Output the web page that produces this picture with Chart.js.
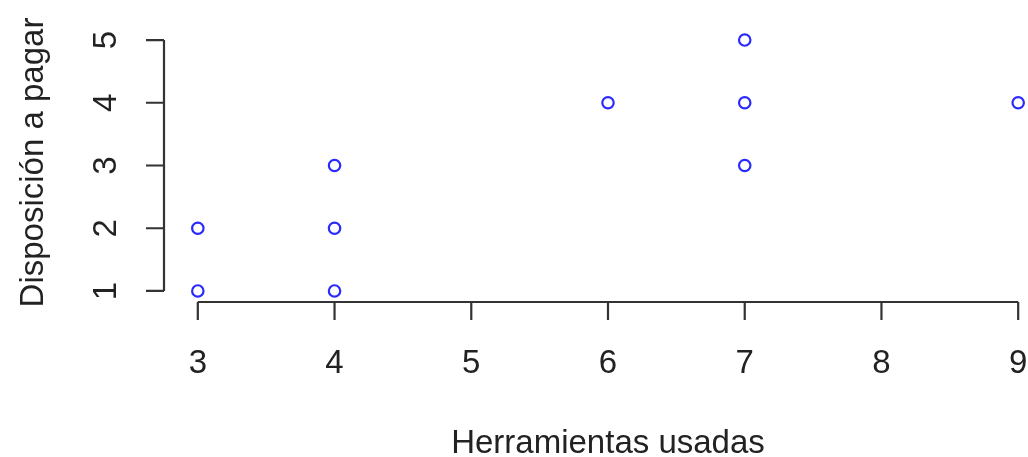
<!DOCTYPE html>
<html>
<head>
<meta charset="utf-8">
<script src="https://cdn.jsdelivr.net/npm/chart.js@4/dist/chart.umd.min.js"></script>
<style>
  html, body { margin: 0; padding: 0; background: #fff; overflow: hidden; }
  #c { display: block; }
</style>
</head>
<body>
<canvas id="c" width="1063" height="457"></canvas>
<script>
// Tools used vs. willingness to pay
const herramientas = [3, 3, 4, 4, 4, 6, 7, 7, 7, 9];
const disposicion  = [1, 2, 1, 2, 3, 4, 3, 4, 5, 4];
const xTicks = [3, 4, 5, 6, 7, 8, 9];
const yTicks = [1, 2, 3, 4, 5];
const xTitle = 'Herramientas usadas';
const yTitle = 'Disposición a pagar';

const points = herramientas.map((x, i) => ({ x: x, y: disposicion[i] }));

const FONT = '33px "Liberation Sans", Arial, sans-serif';
const INK = '#222';
const AXIS = '#333';

// Base-graphics style axes: lines span first to last tick only
const baseAxes = {
  id: 'baseAxes',
  afterDraw(chart) {
    const ctx = chart.ctx;
    const xs = chart.scales.x, ys = chart.scales.y;
    const area = chart.chartArea;
    const axY = area.bottom + 1;
    const axX = area.left - 1;
    const tick = 18;
    ctx.save();
    ctx.strokeStyle = AXIS;
    ctx.lineWidth = 2.2;
    ctx.lineCap = 'butt';

    // x axis
    const x0 = xs.getPixelForValue(xTicks[0]);
    const x1 = xs.getPixelForValue(xTicks[xTicks.length - 1]);
    ctx.beginPath();
    ctx.moveTo(x0, axY); ctx.lineTo(x1, axY);
    xTicks.forEach(v => {
      const px = xs.getPixelForValue(v);
      ctx.moveTo(px, axY); ctx.lineTo(px, axY + tick);
    });
    ctx.stroke();

    // y axis
    const y0 = ys.getPixelForValue(yTicks[0]);
    const y1 = ys.getPixelForValue(yTicks[yTicks.length - 1]);
    ctx.beginPath();
    ctx.moveTo(axX, y0); ctx.lineTo(axX, y1);
    yTicks.forEach(v => {
      const py = ys.getPixelForValue(v);
      ctx.moveTo(axX, py); ctx.lineTo(axX - tick, py);
    });
    ctx.stroke();

    ctx.fillStyle = INK;
    ctx.font = FONT;
    ctx.textBaseline = 'alphabetic';

    // x tick labels
    ctx.textAlign = 'center';
    xTicks.forEach(v => {
      ctx.fillText(String(v), xs.getPixelForValue(v), axY + 71);
    });

    // y tick labels, rotated to read upward
    yTicks.forEach(v => {
      ctx.save();
      ctx.translate(116, ys.getPixelForValue(v));
      ctx.rotate(-Math.PI / 2);
      ctx.textAlign = 'center';
      ctx.fillText(String(v), 0, 0);
      ctx.restore();
    });

    // axis titles
    ctx.textAlign = 'center';
    ctx.fillText(xTitle, (area.left + area.right) / 2, 453);
    ctx.save();
    ctx.translate(43, (area.top + area.bottom) / 2 - 3);
    ctx.rotate(-Math.PI / 2);
    ctx.fillText(yTitle, 0, 0);
    ctx.restore();

    ctx.restore();
  }
};

new Chart(document.getElementById('c'), {
  type: 'scatter',
  data: {
    datasets: [{
      data: points,
      pointStyle: 'circle',
      pointRadius: 5.7,
      pointHoverRadius: 5.7,
      pointBorderWidth: 2.2,
      borderColor: '#2a2aff',
      backgroundColor: 'rgba(0,0,0,0)',
      clip: false
    }]
  },
  options: {
    responsive: false,
    animation: false,
    events: [],
    layout: { padding: { left: 165, right: 12, top: 30, bottom: 156 } },
    plugins: { legend: { display: false }, tooltip: { enabled: false } },
    scales: {
      x: { type: 'linear', min: 2.76, max: 9.24, display: false },
      y: { type: 'linear', min: 0.84, max: 5.16, display: false }
    }
  },
  plugins: [baseAxes]
});
</script>
</body>
</html>
